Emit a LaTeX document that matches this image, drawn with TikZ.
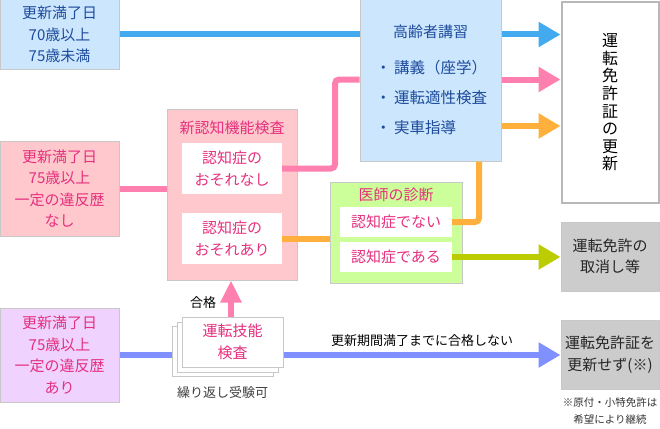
\documentclass[tikz,border=0pt]{standalone}
\usepackage{fontspec}
\setmainfont{Noto Sans CJK JP}
\usetikzlibrary{arrows.meta,positioning,calc}

\definecolor{boxblue}{HTML}{CCE6FD}
\definecolor{boxpink}{HTML}{FFC8CC}
\definecolor{boxlilac}{HTML}{F0D2FF}
\definecolor{boxgreen}{HTML}{CCFF99}
\definecolor{boxgrey}{HTML}{CCCCCC}
\definecolor{edgegrey}{HTML}{C8C8C8}
\definecolor{txtblue}{HTML}{1E4C9C}
\definecolor{txtpink}{HTML}{E5307E}
\definecolor{lnblue}{HTML}{44AAF0}
\definecolor{lnpink}{HTML}{FF80AE}
\definecolor{lnorange}{HTML}{FFB03C}
\definecolor{lnolive}{HTML}{BBCC00}
\definecolor{lnviolet}{HTML}{8090FF}

\begin{document}
\begin{tikzpicture}[
  x=1pt, y=-1pt,
  font=\fontsize{15}{21.5}\selectfont,
  block/.style={draw=edgegrey, line width=1pt, align=center, inner sep=0pt},
  agebox/.style={block, minimum width=119pt},
  inbox/.style={fill=white, align=center, inner sep=0pt, text=txtpink, minimum width=100pt},
  resultbox/.style={block, fill=boxgrey, text=black!85, minimum width=98pt, minimum height=69pt},
  paper/.style={block, fill=white, minimum width=101pt, minimum height=50pt},
  note/.style={align=center, font=\fontsize{13}{16}\selectfont},
  flow/.style={line width=6pt},
  flowarr/.style={line width=6pt, -{Triangle[width=24pt,length=22pt]}}
]
\useasboundingbox (0,0) rectangle (660,428);

% left column
\node[agebox, fill=boxblue, text=txtblue, minimum height=69pt] (age70) at (59.5,34.5)
  {更新満了日\\70歳以上\\75歳未満};
\node[agebox, fill=boxpink, text=txtpink, minimum height=95pt] (age75) at (59.5,188.5)
  {更新満了日\\75歳以上\\一定の違反歴\\なし};
\node[agebox, fill=boxlilac, text=txtpink, minimum height=94pt] (age75v) at (59.5,355)
  {更新満了日\\75歳以上\\一定の違反歴\\あり};

% cognitive test
\node[block, fill=boxpink, minimum width=130pt, minimum height=171pt] (ninchi) at (232,194.5) {};
\node[text=txtpink] (ninchititle) at (232,128) {新認知機能検査};
\node[inbox, minimum height=51pt] (nashi) at (232,168.5) {認知症の\\おそれなし};
\node[inbox, minimum height=51pt] (ari) at (232,238.5) {認知症の\\おそれあり};

% driving skill test
\node[paper] (skillback) at (222.5,351.5) {};
\node[paper] (skillmid) at (227.5,347) {};
\node[paper, text=txtpink] (skill) at (232.5,342) {運転技能\\検査};
\node[note, text=black!75, below=6pt of skillback] (retry) {繰り返し受験可};
\node[note, text=black] (pass) at (203,303) {合格};

% lecture
\node[block, fill=boxblue, minimum width=141pt, minimum height=161pt] (lecture) at (430.5,80.5) {};
\node[text=txtblue] (lecturetitle) at (430.5,32) {高齢者講習};
\node[text=txtblue, anchor=west, font=\fontsize{15.5}{18}\selectfont] (item1) at (372,68) {・\hspace{3pt}講義（座学）};
\node[text=txtblue, anchor=west, font=\fontsize{15.5}{18}\selectfont] (item2) at (372,98) {・\hspace{3pt}運転適性検査};
\node[text=txtblue, anchor=west, font=\fontsize{15.5}{18}\selectfont] (item3) at (372,128) {・\hspace{3pt}実車指導};

% doctor
\node[block, fill=boxgreen, minimum width=132pt, minimum height=101pt] (doctor) at (396,232.5) {};
\node[text=txtpink] (doctortitle) at (396,195) {医師の診断};
\node[inbox, minimum width=112pt, minimum height=30pt] (denai) at (396,222) {認知症でない};
\node[inbox, minimum width=112pt, minimum height=30pt] (dearu) at (396,257) {認知症である};

% results
\node[block, draw=boxgrey!90!black, line width=2pt, fill=white, minimum width=97pt, minimum height=200pt,
  font=\fontsize{16}{17.6}\selectfont] (renew) at (610,102.5)
  {運\\転\\免\\許\\証\\の\\更\\新};
\node[resultbox] (cancel) at (610,256.5) {運転免許の\\取消し等};
\node[resultbox] (norenew) at (610,354.5) {運転免許証を\\更新せず(※)};
\node[align=center, text=black!80, font=\fontsize{10.5}{17}\selectfont, below=5pt of norenew] (exempt)
  {※原付・小特免許は\\希望により継続};

\coordinate (pinkrow) at (335,79.5);
\coordinate (orangecol) at (479,126);

% connectors
\draw[flow, lnblue] (age70.east) -- (lecture.west |- age70.east);
\draw[flowarr, lnblue] (lecture.east |- age70.east) -- (renew.west |- age70.east);

\draw[flow, lnpink] (age75.east) -- (ninchi.west |- age75.east);
\draw[flow, lnpink, rounded corners=4pt] (nashi.east) -| (pinkrow) -- (lecture.west |- pinkrow);
\draw[flowarr, lnpink] (lecture.east |- pinkrow) -- (renew.west |- pinkrow);

\draw[flow, lnorange] (ari.east) -- (doctor.west |- ari.east);
\draw[flow, lnorange, rounded corners=4pt] (denai.east) -| (lecture.south -| orangecol);
\draw[flowarr, lnorange] (lecture.east |- orangecol) -- (renew.west |- orangecol);

\draw[flowarr, lnolive] (dearu.east) -- (cancel.west |- dearu.east);

\draw[flow, lnviolet] (age75v.east) -- (skillback.west |- age75v.east);
\draw[flowarr, lnviolet] (skill.east |- age75v.east) -- node[above=2pt, note, text=black] {更新期間満了までに合格しない} (norenew.west |- age75v.east);

\draw[line width=6pt, lnpink, -{Triangle[width=20pt,length=22pt]}] (skill.north -| 231,0) -- (ninchi.south -| 231,0);

\end{tikzpicture}
\end{document}
